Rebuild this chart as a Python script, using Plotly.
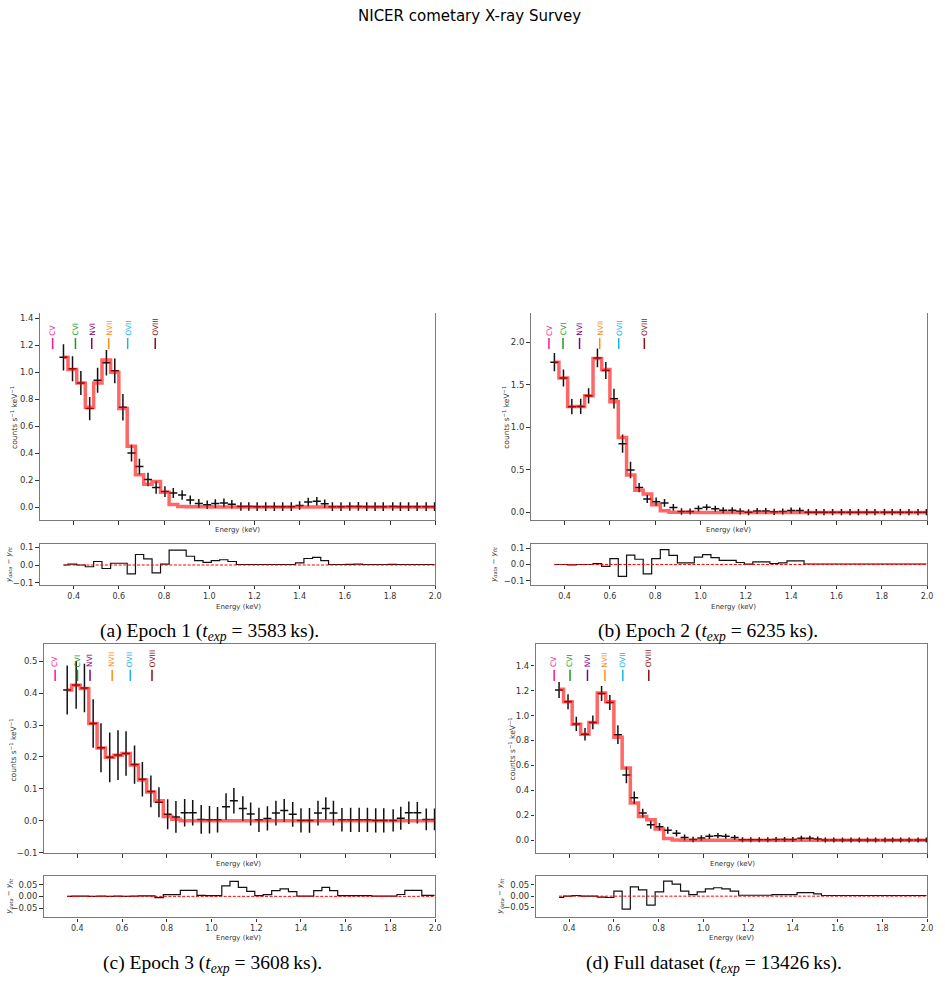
import plotly.graph_objects as go

W, H = 945, 987

# ---------------- data ----------------
energy = [0.355, 0.395, 0.432, 0.471, 0.506, 0.545, 0.582, 0.618, 0.656, 0.691,
          0.729, 0.765, 0.804, 0.841, 0.880, 0.916, 0.954, 0.991, 1.027, 1.065,
          1.100, 1.140, 1.175, 1.212, 1.250, 1.288, 1.325, 1.363, 1.400, 1.438,
          1.476, 1.511, 1.545, 1.583, 1.622, 1.660, 1.697, 1.734, 1.770, 1.812,
          1.846, 1.882, 1.920, 1.960, 1.997]
energy_halfwidth = 0.018

# Epoch 1
model_a = [1.11, 1.02, 0.92, 0.74, 0.92, 1.09, 1.00, 0.73, 0.45, 0.24,
           0.17, 0.19, 0.11, 0.02, 0.005, 0.003, 0.002, 0.002, 0.001, 0.001,
           0.001, 0.001, 0.001, 0, 0, 0, 0, 0, 0, 0,
           0, 0, 0, 0, 0, 0, 0, 0, 0, 0,
           0, 0, 0, 0, 0]
data_a = [1.11, 1.025, 0.92, 0.73, 0.94, 1.07, 1.01, 0.74, 0.40, 0.30,
          0.205, 0.145, 0.115, 0.105, 0.09, 0.053, 0.027, 0.017, 0.026, 0.031,
          0.021, 0.004, 0.004, 0.003, 0.003, 0.003, 0.003, 0.003, 0.012, 0.037,
          0.043, 0.025, 0.003, 0.003, 0.004, 0.005, 0.003, 0.003, 0.003, 0.004,
          0.003, 0.003, 0.003, 0.003, 0.003]
err_a = [0.097, 0.092, 0.089, 0.086, 0.092, 0.094, 0.092, 0.098, 0.062, 0.059,
         0.050, 0.046, 0.040, 0.037, 0.035, 0.033, 0.032, 0.032, 0.032, 0.032,
         0.032, 0.032, 0.032, 0.032, 0.032, 0.032, 0.032, 0.032, 0.032, 0.032,
         0.032, 0.032, 0.032, 0.032, 0.032, 0.032, 0.032, 0.032, 0.032, 0.032,
         0.032, 0.032, 0.032, 0.032, 0.032]

# Epoch 2
model_b = [1.765, 1.58, 1.245, 1.245, 1.37, 1.81, 1.68, 1.30, 0.88, 0.44,
           0.26, 0.215, 0.09, 0.02, 0.003, 0.001, 0.001, 0, 0, 0,
           0, 0, 0, 0, 0, 0, 0, 0, 0, 0,
           0, 0, 0, 0, 0, 0, 0, 0, 0, 0,
           0, 0, 0, 0, 0]
data_b = [1.765, 1.58, 1.243, 1.245, 1.37, 1.815, 1.668, 1.336, 0.807, 0.497,
          0.292, 0.158, 0.126, 0.111, 0.058, 0.011, 0.011, 0.045, 0.060, 0.042,
          0.025, 0.025, 0.012, 0.002, 0.016, 0.016, 0.006, 0.010, 0.022, 0.022,
          0.003, 0.003, 0.003, 0.003, 0.003, 0.003, 0.003, 0.003, 0.003, 0.003,
          0.003, 0.003, 0.003, 0.003, 0.003]
err_b = [0.107, 0.100, 0.090, 0.090, 0.090, 0.110, 0.100, 0.116, 0.107, 0.097,
         0.054, 0.048, 0.048, 0.045, 0.040, 0.038, 0.036, 0.036, 0.036, 0.036,
         0.036, 0.036, 0.036, 0.036, 0.036, 0.036, 0.036, 0.036, 0.036, 0.036,
         0.036, 0.036, 0.036, 0.036, 0.036, 0.036, 0.036, 0.036, 0.036, 0.036,
         0.036, 0.036, 0.036, 0.036, 0.036]

# Epoch 3
model_c = [0.41, 0.425, 0.415, 0.305, 0.228, 0.199, 0.205, 0.211, 0.175, 0.128,
           0.09, 0.063, 0.013, 0.005, 0, 0, 0, 0, 0, 0,
           0, 0, 0, 0, 0, 0, 0, 0, 0, 0,
           0, 0, 0, 0, 0, 0, 0, 0, 0, 0,
           0, 0, 0, 0, 0]
data_c = [0.41, 0.426, 0.416, 0.305, 0.229, 0.199, 0.206, 0.211, 0.176, 0.130,
          0.092, 0.058, 0.020, 0.012, 0.025, 0.025, 0.004, 0.003, 0.003, 0.044,
          0.063, 0.038, 0.021, 0.003, 0.007, 0.024, 0.032, 0.020, 0.001, 0.001,
          0.024, 0.038, 0.024, 0.003, 0.003, 0.003, 0.003, 0.001, 0.001, 0.001,
          0.008, 0.025, 0.025, 0.004, 0.004]
err_c = [0.077, 0.075, 0.076, 0.076, 0.077, 0.078, 0.078, 0.070, 0.060, 0.054,
         0.050, 0.047, 0.047, 0.050, 0.043, 0.040, 0.045, 0.043, 0.040, 0.042,
         0.040, 0.039, 0.036, 0.038, 0.038, 0.039, 0.036, 0.039, 0.038, 0.039,
         0.039, 0.036, 0.039, 0.037, 0.038, 0.038, 0.038, 0.038, 0.038, 0.035,
         0.036, 0.035, 0.034, 0.034, 0.034]

# Full dataset
model_d = [1.21, 1.11, 0.93, 0.85, 0.945, 1.18, 1.11, 0.825, 0.58, 0.30,
           0.19, 0.165, 0.09, 0.015, 0.003, 0.001, 0, 0, 0, 0,
           0, 0, 0, 0, 0, 0, 0, 0, 0, 0,
           0, 0, 0, 0, 0, 0, 0, 0, 0, 0,
           0, 0, 0, 0, 0]
data_d = [1.205, 1.11, 0.933, 0.85, 0.945, 1.176, 1.104, 0.847, 0.523, 0.341,
          0.218, 0.125, 0.109, 0.081, 0.056, 0.023, 0.007, 0.019, 0.032, 0.037,
          0.032, 0.022, 0.004, 0.004, 0.004, 0.004, 0.007, 0.007, 0.007, 0.016,
          0.016, 0.010, 0.003, 0.003, 0.003, 0.003, 0.003, 0.003, 0.003, 0.003,
          0.003, 0.003, 0.003, 0.003, 0.003]
err_d = [0.064, 0.060, 0.057, 0.050, 0.055, 0.060, 0.060, 0.075, 0.066, 0.050,
         0.035, 0.032, 0.030, 0.028, 0.026, 0.024, 0.022, 0.022, 0.021, 0.021,
         0.020, 0.020, 0.020, 0.020, 0.020, 0.020, 0.020, 0.020, 0.020, 0.020,
         0.020, 0.020, 0.020, 0.020, 0.020, 0.020, 0.020, 0.020, 0.020, 0.020,
         0.020, 0.020, 0.020, 0.020, 0.020]

# emission-line markers
line_names = ["CV", "CVI", "NVI", "NVII", "OVII", "OVIII"]
line_colors = ["#ff1493", "#1a9a1a", "#800080", "#ff8c1a", "#1ab4e6", "#8b1010"]
line_pos_a = [0.307, 0.408, 0.480, 0.555, 0.639, 0.761]
line_pos_b = [0.331, 0.393, 0.466, 0.555, 0.639, 0.752]
line_pos_c = [0.301, 0.401, 0.457, 0.556, 0.637, 0.734]
line_pos_d = [0.333, 0.404, 0.482, 0.560, 0.640, 0.756]

# axis tick values
energy_ticks = [0.4, 0.6, 0.8, 1.0, 1.2, 1.4, 1.6, 1.8, 2.0]
yticks_a = [0.0, 0.2, 0.4, 0.6, 0.8, 1.0, 1.2, 1.4]
yticks_b = [0.0, 0.5, 1.0, 1.5, 2.0]
yticks_c = [-0.1, 0.0, 0.1, 0.2, 0.3, 0.4, 0.5]
yticks_d = [0.0, 0.2, 0.4, 0.6, 0.8, 1.0, 1.2, 1.4]
rticks_ab = [-0.1, 0.0, 0.1]
rticks_cd = [-0.05, 0.0, 0.05]

captions = [
    "(a) Epoch 1 (<i>t<sub>exp</sub></i> = 3583\u2009ks).",
    "(b) Epoch 2 (<i>t<sub>exp</sub></i> = 6235\u2009ks).",
    "(c) Epoch 3 (<i>t<sub>exp</sub></i> = 3608\u2009ks).",
    "(d) Full dataset (<i>t<sub>exp</sub></i> = 13426\u2009ks).",
]
title_text = "NICER cometary X-ray Survey"

# ---------------- layout geometry (pixels) ----------------
panels = [
    dict(data=data_a, model=model_a, err=err_a, lines=line_pos_a,
         xpx=(40, 438), main_y=(313, 522), res_y=(546, 587),
         yrange=[-0.098, 1.44], yticks=yticks_a, rrange=[-0.113, 0.119], rticks=rticks_ab,
         rfmt=".1f", top=False, cap=(211, 634), ylab_x=14, ylab_y=418, rlab_x=9, rlab_y=566,
         elab_main=(239, 532), elab_res=(240, 609)),
    dict(data=data_b, model=model_b, err=err_b, lines=line_pos_b,
         xpx=(534, 933), main_y=(313, 522), res_y=(546, 587),
         yrange=[-0.093, 2.346], yticks=yticks_b, rrange=[-0.124, 0.124], rticks=rticks_ab,
         rfmt=".1f", top=False, cap=(713, 634), ylab_x=509, ylab_y=418, rlab_x=497, rlab_y=566,
         elab_main=(733, 532), elab_res=(738, 609)),
    dict(data=data_c, model=model_c, err=err_c, lines=line_pos_c,
         xpx=(44, 438), main_y=(647, 857), res_y=(880, 922),
         yrange=[-0.101, 0.553], yticks=yticks_c, rrange=[-0.089, 0.087], rticks=rticks_cd,
         rfmt=".2f", top=True, cap=(214, 969), ylab_x=13, ylab_y=753, rlab_x=9, rlab_y=900,
         elab_main=(240, 868), elab_res=(240, 943)),
    dict(data=data_d, model=model_d, err=err_d, lines=line_pos_d,
         xpx=(539, 933), main_y=(647, 857), res_y=(880, 922),
         yrange=[-0.101, 1.57], yticks=yticks_d, rrange=[-0.094, 0.09], rticks=rticks_cd,
         rfmt=".2f", top=True, cap=(719, 969), ylab_x=515, ylab_y=752, rlab_x=503, rlab_y=900,
         elab_main=(737, 868), elab_res=(736, 943)),
]


def fx(p):
    return p / W


def fy(p):
    return 1 - p / H


def aid(n):
    return "" if n == 1 else str(n)


SPINE = "#7a7a7a"
TICKC = "#333333"
FONT = "DejaVu Sans"

fig = go.Figure()
layout = {}
annotations = []
shapes = []

for i, p in enumerate(panels):
    m = 2 * i + 1
    r = 2 * i + 2
    xm, ym = "x" + aid(m), "y" + aid(m)
    xr, yr = "x" + aid(r), "y" + aid(r)
    resid = [d - mo for d, mo in zip(p["data"], p["model"])]

    # data with error bars
    fig.add_trace(go.Scatter(
        x=energy, y=p["data"], mode="markers", xaxis=xm, yaxis=ym,
        marker=dict(size=0.1, color="black"),
        error_y=dict(type="data", array=p["err"], width=0, thickness=1.5, color="#111111"),
        error_x=dict(type="constant", value=energy_halfwidth, width=0, thickness=1.5, color="#111111"),
        hoverinfo="skip"))
    # model
    fig.add_trace(go.Scatter(
        x=energy, y=p["model"], mode="lines", xaxis=xm, yaxis=ym,
        line=dict(shape="hvh", color="rgba(255,0,0,0.6)", width=3.5), hoverinfo="skip"))
    # residual
    fig.add_trace(go.Scatter(
        x=energy, y=resid, mode="lines", xaxis=xr, yaxis=yr,
        line=dict(shape="hvh", color="#111111", width=1.2), hoverinfo="skip"))
    fig.add_trace(go.Scatter(
        x=[energy[0], energy[-1]], y=[0, 0], mode="lines", xaxis=xr, yaxis=yr,
        line=dict(color="red", width=1, dash="3px,1.6px"), hoverinfo="skip"))

    x0, x1 = fx(p["xpx"][0]), fx(p["xpx"][1])
    common_x = dict(range=[0.25, 2.0], tickvals=energy_ticks, ticks="outside", ticklen=3.5,
                    tickwidth=1, tickcolor=TICKC, showgrid=False, zeroline=False,
                    showline=True, linecolor=SPINE, linewidth=1.2)
    layout["xaxis" + aid(m)] = dict(common_x, domain=[x0, x1], anchor=ym, showticklabels=False,
                                    mirror=p["top"])
    layout["yaxis" + aid(m)] = dict(domain=[fy(p["main_y"][1]), fy(p["main_y"][0])], anchor=xm,
                                    range=p["yrange"], tickvals=p["yticks"], tickformat=".1f",
                                    ticks="outside", ticklen=3.5, tickwidth=1, tickcolor=TICKC,
                                    tickfont=dict(family=FONT, size=8.5, color=TICKC),
                                    showgrid=False, zeroline=False, showline=True,
                                    linecolor=SPINE, linewidth=1.2, mirror=True)
    layout["xaxis" + aid(r)] = dict(common_x, domain=[x0, x1], anchor=yr, showticklabels=True,
                                    tickformat=".1f", mirror=True, ticklen=3,
                                    tickfont=dict(family=FONT, size=8, color=TICKC))
    layout["yaxis" + aid(r)] = dict(domain=[fy(p["res_y"][1]), fy(p["res_y"][0])], anchor=xr,
                                    range=p["rrange"], tickvals=p["rticks"], tickformat=p["rfmt"],
                                    ticks="outside", ticklen=3.5, tickwidth=1, tickcolor=TICKC,
                                    tickfont=dict(family=FONT, size=8.5, color=TICKC),
                                    showgrid=False, zeroline=False, showline=True,
                                    linecolor=SPINE, linewidth=1.2, mirror=True)

    # emission-line markers
    for name, col, e in zip(line_names, line_colors, p["lines"]):
        shapes.append(dict(type="line", xref=xm, yref=ym + " domain", x0=e, x1=e,
                           y0=0.825, y1=0.878, line=dict(color=col, width=1.5)))
        annotations.append(dict(text=name, x=e, xref=xm, y=0.885, yref=ym + " domain",
                                textangle=-90, xanchor="center", yanchor="bottom",
                                showarrow=False, borderpad=0,
                                font=dict(family=FONT, size=7.5, color=col)))

    # axis labels
    annotations.append(dict(text="counts s<sup>\u22121</sup> keV<sup>\u22121</sup>",
                            x=fx(p["ylab_x"]), y=fy(p["ylab_y"]), xref="paper", yref="paper",
                            textangle=-90, showarrow=False, xanchor="center", yanchor="middle",
                            font=dict(family=FONT, size=7.5, color=TICKC)))
    annotations.append(dict(text="<i>y<sub>data</sub></i> \u2212 <i>y<sub>fit</sub></i>",
                            x=fx(p["rlab_x"]), y=fy(p["rlab_y"]), xref="paper", yref="paper",
                            textangle=-90, showarrow=False, xanchor="center", yanchor="middle",
                            font=dict(family=FONT, size=7, color=TICKC)))
    for (ex, ey) in (p["elab_main"], p["elab_res"]):
        annotations.append(dict(text="Energy (keV)", x=fx(ex), y=fy(ey), xref="paper",
                                yref="paper", showarrow=False, xanchor="center",
                                yanchor="middle", font=dict(family=FONT, size=7, color=TICKC)))
    annotations.append(dict(text=captions[i], x=fx(p["cap"][0]), y=fy(p["cap"][1]),
                            xref="paper", yref="paper", showarrow=False, xanchor="center",
                            yanchor="middle",
                            font=dict(family="Liberation Serif", size=19.5, color="black")))

annotations.append(dict(text=title_text, x=fx(472), y=fy(14), xref="paper", yref="paper",
                        showarrow=False, xanchor="center", yanchor="middle",
                        font=dict(family=FONT, size=15, color="black")))

fig.update_layout(
    width=W, height=H, margin=dict(l=0, r=0, t=0, b=0),
    paper_bgcolor="white", plot_bgcolor="white", showlegend=False,
    annotations=annotations, shapes=shapes, **layout)

fig.write_html("out.html")
